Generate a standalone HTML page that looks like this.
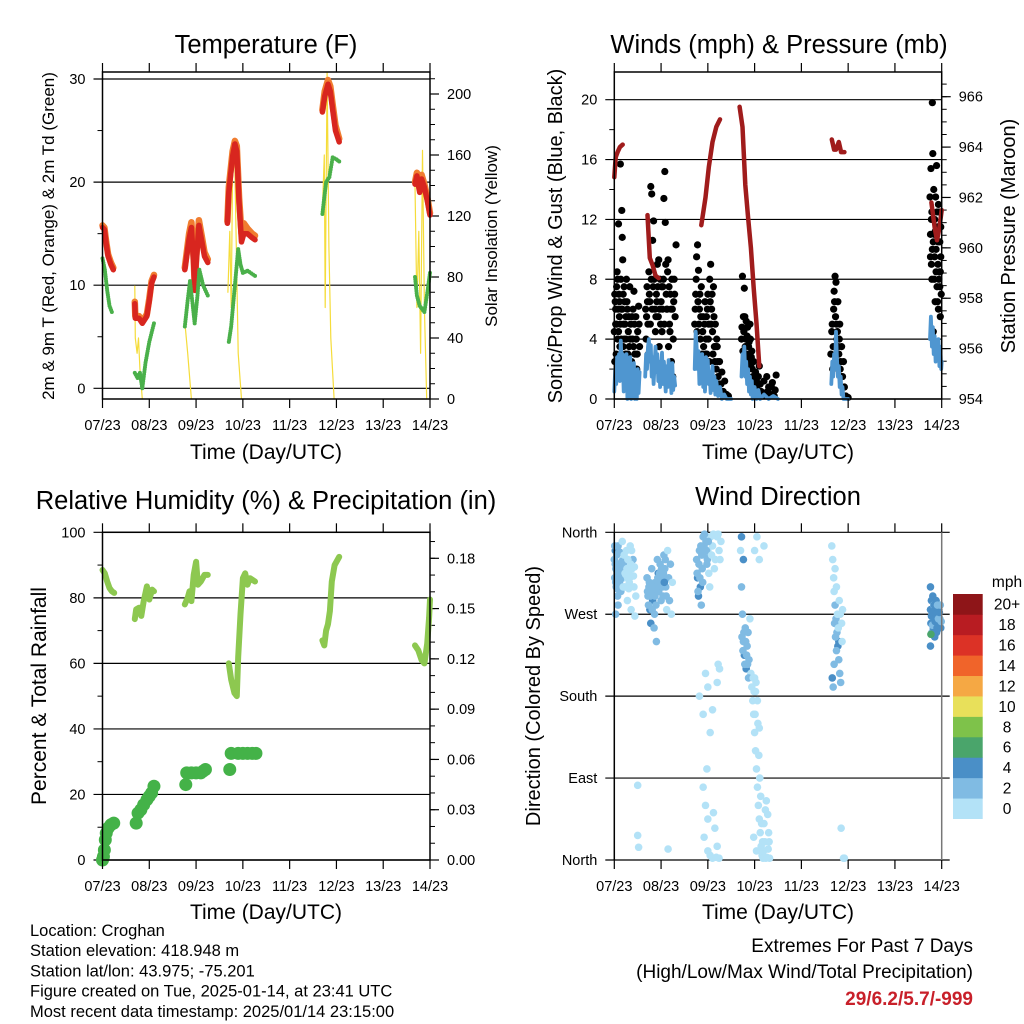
<!DOCTYPE html>
<html><head><meta charset="utf-8">
<style>
html,body{margin:0;padding:0;background:#fff;}
svg{display:block;font-family:"Liberation Sans",Arial,sans-serif;}
</style></head>
<body>
<svg id="chart" width="1024" height="1024" viewBox="0 0 1024 1024" xmlns="http://www.w3.org/2000/svg">
<rect width="1024" height="1024" fill="#fff"/>
</svg>
<script>
// ---------- DATA ----------
const dayLabels = ["07/23","08/23","09/23","10/23","11/23","12/23","13/23","14/23"];
const temp2m = [
 [[0,15.6],[0.04,15.4],[0.08,14],[0.12,12.8],[0.18,12],[0.23,11.5]],
 [[0.69,8.2],[0.7,6.8],[0.78,6.8],[0.85,6.3],[0.95,7],[1.0,8.5],[1.05,10.2],[1.1,10.8]],
 [[1.76,11.5],[1.85,14.5],[1.9,15.6],[1.95,12],[1.97,9.5],[2.0,12],[2.06,15.8],[2.12,14.3],[2.18,12.8],[2.25,12.2]],
 [[2.67,16],[2.7,19],[2.78,22.5],[2.83,23.7],[2.87,23],[2.92,18],[2.97,14.2],[3.02,15],[3.1,15],[3.2,14.6],[3.26,14.4]],
 [[4.7,26.8],[4.75,28.3],[4.82,29.5],[4.87,28.8],[4.92,27],[4.98,25],[5.06,23.9]],
 [[6.68,19.8],[6.72,20.6],[6.78,19],[6.82,20.3],[6.88,19.5],[6.95,18],[7.0,16.8]]
];
const temp9m = [
 [[0,15.8],[0.04,15.6],[0.08,14.2],[0.12,13],[0.18,12.2],[0.23,11.7]],
 [[0.69,8.4],[0.7,7],[0.78,7],[0.85,6.5],[0.95,7.2],[1.0,8.7],[1.05,10.4],[1.1,11]],
 [[1.76,11.7],[1.85,15],[1.9,16.1],[1.95,12.5],[1.97,10],[2.0,12.5],[2.06,16.3],[2.12,14.8],[2.18,13.2],[2.25,12.5]],
 [[2.67,16.2],[2.7,19.5],[2.78,23],[2.83,24],[2.87,23.5],[2.92,18.5],[2.97,15],[3.02,16],[3.1,15.5],[3.2,15],[3.26,14.8]],
 [[4.7,27],[4.75,28.8],[4.82,29.9],[4.87,29.3],[4.92,27.5],[4.98,25.5],[5.06,24.2]],
 [[6.68,20],[6.72,20.9],[6.78,19.3],[6.82,20.7],[6.88,19.8],[6.95,18.3],[7.0,17]]
];
const dewpoint = [
 [[0,12.6],[0.05,11.5],[0.1,9.5],[0.15,8],[0.2,7.4]],
 [[0.69,1.5],[0.75,1],[0.8,1.5],[0.85,0],[0.92,2.5],[1.0,4.5],[1.1,6.3]],
 [[1.76,6],[1.82,8.5],[1.87,10.4],[1.93,8],[1.97,6.3],[2.03,9],[2.07,11.5],[2.15,10],[2.25,9]],
 [[2.7,4.5],[2.75,6],[2.8,8.5],[2.85,11],[2.9,13.5],[2.95,12],[3.0,11.2],[3.1,11.4],[3.26,10.9]],
 [[4.7,16.9],[4.74,18.5],[4.78,20],[4.85,20.5],[4.92,22.4],[5.0,22.2],[5.06,22]],
 [[6.68,10.8],[6.72,9],[6.78,8],[6.88,7.4],[6.95,9.5],[7.0,11.2]]
];
const solar = [
 [[0.69,74],[0.7,40],[0.74,30],[0.77,40],[0.8,20],[0.85,0]],
 [[1.77,47],[1.82,30],[1.9,0]],
 [[2.68,70],[2.72,110],[2.75,60],[2.78,150],[2.82,167],[2.86,100],[2.9,30],[2.97,0]],
 [[4.7,124],[4.74,160],[4.76,60],[4.8,214],[4.84,100],[4.88,40],[4.95,0]],
 [[6.68,140],[6.72,60],[6.76,110],[6.8,30],[6.84,163],[6.88,60],[6.93,0]]
];
const pressure = [
 [[0,962.8],[0.03,963.6],[0.07,963.8],[0.12,964],[0.18,964.1]],
 [[0.71,961.3],[0.76,959.6],[0.82,959.3],[0.88,958.9],[0.95,958.8]],
 [[1.86,960.9],[1.95,962],[2.02,963.2],[2.1,964.2],[2.18,964.8],[2.26,965.1]],
 [[2.68,965.6],[2.74,964.8],[2.8,962.5],[2.86,961.2],[2.92,960],[2.98,958.4],[3.04,957],[3.1,955.3]],
 [[4.65,964.3],[4.7,963.9],[4.74,963.9],[4.8,964.2],[4.85,963.8],[4.92,963.8]],
 [[6.78,961.8],[6.85,960.8],[6.9,960.3],[6.95,960.8],[7.0,961.5]]
];
const gusts = [[0.02,6.5],[0.03,5],[0.04,3],[0.05,7.5],[0.06,8.5],[0.07,4],[0.08,6],[0.09,11.7],[0.1,7],[0.11,5.5],[0.12,3.5],[0.13,15.7],[0.14,8],[0.15,6],[0.16,12.6],[0.17,10.8],[0.18,9.3],[0.19,7],[0.2,5],[0.21,4],[0.22,6.5],[0.24,3],[0.25,5.5],[0.27,2],[0.28,6],[0.3,4.5],[0.32,3.5],[0.33,7.5],[0.35,5],[0.37,2.5],[0.39,4],[0.4,6],[0.42,7.2],[0.44,3],[0.46,5.5],[0.48,2],[0.5,4.5],[0.52,6.2],[0.54,3.5],[0.01,2.5],[0.26,8],[0.36,1.5],[0.45,1],
[0.0,4.5],[0.01,7],[0.03,6],[0.05,5],[0.07,8],[0.09,4.5],[0.11,6.5],[0.13,5],[0.15,4],[0.17,6],[0.19,3.5],[0.21,7.5],[0.23,5],[0.25,4],[0.27,6.5],[0.29,3],[0.31,5.5],[0.34,4],[0.38,5.5],[0.41,3.5],[0.43,5],[0.47,4],[0.49,3],[0.53,5],
[0.67,6],[0.68,4],[0.7,7.5],[0.72,5],[0.74,8.5],[0.76,6.5],[0.78,14.2],[0.8,13.7],[0.82,10.6],[0.84,11.9],[0.85,8],[0.87,6],[0.88,4.5],[0.9,7],[0.92,9],[0.94,5.5],[0.96,3.5],[0.98,8],[1.0,6.5],[1.02,4.5],[1.04,7.5],[1.06,13.4],[1.08,15.2],[1.09,11.8],[1.1,9],[1.12,6],[1.14,8.5],[1.16,3.5],[1.18,5],[1.2,7],[1.22,2.5],[1.24,6],[1.26,4],[1.28,8],[1.3,5.5],[1.32,10.3],[0.73,3],[0.86,2.5],[0.95,9.3],[1.15,9.3],[1.25,1.5],
[0.69,5.5],[0.71,6.5],[0.75,7],[0.77,5],[0.79,8],[0.81,6],[0.83,7.5],[0.89,5.5],[0.91,6.5],[0.93,7.5],[0.97,6],[0.99,5],[1.01,7.5],[1.03,6],[1.05,8],[1.07,5],[1.11,7],[1.13,6],[1.17,7.5],[1.19,4.5],[1.21,6],[1.23,8],[1.27,6.5],[1.29,7],
[1.72,5],[1.74,7],[1.76,9.5],[1.78,10.3],[1.8,8.6],[1.82,6],[1.84,4],[1.86,7.5],[1.88,3],[1.9,5.5],[1.92,2],[1.94,6.5],[1.96,4],[1.98,3],[2.0,7],[2.02,5],[2.04,8],[2.06,9],[2.08,6],[2.1,4.5],[2.12,7.5],[2.14,3.5],[2.16,5],[2.18,2],[2.2,3.5],[2.22,1.5],[2.25,2.5],[2.28,1],[2.3,1.8],[2.33,0.5],[2.36,1.2],[2.4,0.3],[2.44,0.2],[1.87,1.5],[2.03,2.5],
[1.73,6],[1.75,8],[1.77,4.5],[1.79,6.5],[1.81,5],[1.83,7],[1.85,5.5],[1.89,4.5],[1.91,3.5],[1.93,5],[1.95,3],[1.97,5.5],[1.99,6],[2.01,4],[2.05,6.5],[2.07,5],[2.09,7],[2.11,3],[2.13,5.5],[2.15,2.5],[2.17,3.5],[2.19,4],[2.21,2.5],[2.24,1],
[2.72,4],[2.74,8.2],[2.76,5.5],[2.78,7.4],[2.8,3.5],[2.82,5.2],[2.84,4.2],[2.86,2.5],[2.88,3.8],[2.9,5],[2.92,2.2],[2.94,3.2],[2.96,1.5],[2.98,2.5],[3.0,1],[3.02,1.8],[3.05,0.8],[3.08,1.5],[3.1,2.2],[3.14,0.5],[3.18,0.2],[3.22,0.4],[3.26,1.5],[3.3,0.8],[3.34,0.3],[3.38,1.1],[3.42,0.2],[3.46,1.6],
[2.73,4.8],[2.75,3.2],[2.77,4.5],[2.79,5.5],[2.81,4],[2.83,3],[2.85,4.8],[2.87,3.5],[2.89,2.8],[2.91,4],[2.93,2.8],[2.95,2],[3.04,1.2],[3.12,1],[3.2,1.2],[3.28,0.5],[3.36,0.8],[3.44,0.6],
[4.63,3],[4.65,4.5],[4.67,2],[4.69,6],[4.7,7.2],[4.72,8.2],[4.73,5.5],[4.74,7.8],[4.76,4],[4.78,6.5],[4.8,3],[4.82,5],[4.84,2.5],[4.86,3.5],[4.88,1.5],[4.9,2.5],[4.92,0.8],[4.95,0.2],[5.0,0.1],
[4.66,5],[4.68,3.5],[4.71,6.5],[4.75,5],[4.77,4.5],[4.79,3.5],[4.81,4],[4.83,2],[4.85,1.5],
[6.75,13.5],[6.76,11],[6.77,15.4],[6.78,9],[6.79,12.5],[6.8,19.8],[6.81,16.4],[6.82,10.5],[6.83,14],[6.84,8],[6.85,12],[6.86,6.5],[6.87,13.5],[6.88,10],[6.89,15.6],[6.9,7.5],[6.91,11.5],[6.92,9],[6.93,6],[6.94,12.5],[6.95,8.5],[6.96,10.5],[6.97,5.5],[6.98,9.5],[6.99,7],[6.82,4.5],[6.86,11.2],[6.93,13],
[6.76,9.5],[6.78,12],[6.8,10],[6.84,11],[6.88,8.5],[6.9,12.5],[6.92,10.5],[6.94,8],[6.96,7.5],[6.98,11.5],[6.79,8],[6.85,9.5],[6.91,6.5],[6.97,8.5]];
const sonic = [
 [[0,0.5],[0.02,2],[0.04,1],[0.06,2.8],[0.08,1.5],[0.1,3],[0.12,1.2],[0.14,3.9],[0.16,2],[0.18,3],[0.2,0.5],[0.22,2.5],[0.24,1],[0.26,3],[0.28,0],[0.3,2.2],[0.32,0.5],[0.34,2.8],[0.36,0],[0.38,1.8],[0.4,0.3],[0.42,2.4],[0.44,0],[0.46,1.5],[0.48,0],[0.5,2],[0.52,0.4],[0.54,1.8]],
 [[0.66,1.5],[0.68,3],[0.7,2],[0.72,3.5],[0.74,4],[0.76,2.5],[0.78,3.6],[0.8,1.5],[0.82,2.8],[0.84,1],[0.86,2.2],[0.88,3.5],[0.9,1.8],[0.92,3],[0.94,1.2],[0.96,2.5],[0.98,0.8],[1.0,2],[1.02,3.1],[1.04,1],[1.06,2.5],[1.08,1.5],[1.1,0.5],[1.12,2.2],[1.14,0.8],[1.16,2.6],[1.18,1],[1.2,1.8],[1.22,0.4],[1.24,2.4],[1.26,0.6],[1.28,1.5],[1.3,0.9]],
 [[1.72,2],[1.74,4.5],[1.76,3.5],[1.78,2],[1.8,3.2],[1.82,1],[1.84,2.5],[1.86,1.2],[1.88,3],[1.9,0.8],[1.92,2],[1.94,0.5],[1.96,2.8],[1.98,1.2],[2.0,2.6],[2.02,1],[2.04,1.8],[2.06,0.4],[2.08,1.5],[2.1,2.2],[2.12,0.6],[2.14,1.5],[2.16,0.3],[2.18,1.2],[2.22,0.2],[2.26,0.8],[2.3,0],[2.35,0.3],[2.4,0],[2.5,0]],
 [[2.72,1.5],[2.74,3],[2.76,2.2],[2.78,3.5],[2.8,1.5],[2.82,2.5],[2.84,1],[2.86,2],[2.88,0.5],[2.9,1.5],[2.92,0.3],[2.94,1.2],[2.96,0],[3.0,0.8],[3.04,0],[3.08,0.6],[3.12,0],[3.2,0.3],[3.3,0],[3.4,0.2],[3.5,0]],
 [[4.64,1],[4.66,2.5],[4.68,1.5],[4.7,3],[4.72,2],[4.74,4.5],[4.76,2.8],[4.78,1.5],[4.8,2.2],[4.82,0.8],[4.84,1.5],[4.86,0.3],[4.88,0.8],[4.9,0],[5.0,0]],
 [[6.75,4],[6.77,5.5],[6.79,3.5],[6.81,4.8],[6.83,3],[6.85,4.2],[6.87,2.5],[6.89,3.8],[6.91,2.8],[6.93,4],[6.95,2.2],[6.97,3.5],[6.99,2],[7.0,2.5]]
];
const humidity = [
 [[0,88.5],[0.05,87.5],[0.1,85],[0.15,83],[0.2,82],[0.25,81.5]],
 [[0.69,73.5],[0.72,76.5],[0.78,77],[0.83,74.5],[0.88,79],[0.95,83.5],[1.0,79.5],[1.06,82.5],[1.1,82]],
 [[1.76,78],[1.82,80],[1.86,82],[1.9,79],[1.95,87],[2.0,91],[2.04,84],[2.1,85],[2.18,87],[2.25,87]],
 [[2.7,60],[2.75,55],[2.82,51],[2.87,50],[2.9,62],[2.95,75],[3.0,86],[3.05,87.5],[3.1,84],[3.15,86],[3.26,85]],
 [[4.7,67],[4.74,65.5],[4.78,70],[4.82,72],[4.86,76],[4.9,85],[4.96,90],[5.06,92.5]],
 [[6.68,65.5],[6.75,64],[6.82,61],[6.88,60],[6.94,66],[6.98,74],[7.0,79.5]]
];
const precip = [[0,0],[0.02,0.002],[0.04,0.006],[0.06,0.012],[0.08,0.016],[0.12,0.019],[0.18,0.021],[0.24,0.022],
 [0.72,0.022],[0.76,0.028],[0.82,0.030],[0.88,0.033],[0.95,0.036],[1.0,0.038],[1.05,0.040],[1.1,0.044],
 [1.78,0.045],[1.8,0.052],[1.9,0.052],[2.0,0.052],[2.1,0.052],[2.15,0.053],[2.2,0.054],
 [2.72,0.054],[2.75,0.0636],[2.9,0.0636],[3.0,0.0636],[3.1,0.0636],[3.2,0.0636],[3.28,0.0636]];
const windDir = [[0.0,330,3],[0.01,310,3],[0.02,340,4],[0.03,320,3],[0.04,300,3],[0.05,335,3],[0.06,315,5],[0.07,290,3],[0.08,345,3],[0.1,325,3],[0.11,305,2],[0.12,338,3],[0.14,295,3],[0.15,318,2],[0.17,350,1],[0.18,330,1],[0.2,310,1],[0.22,300,1],[0.24,325,3],[0.26,340,1],[0.28,285,1],[0.3,315,1],[0.32,305,1],[0.34,345,1],[0.36,275,1],[0.38,320,1],[0.4,330,3],[0.42,300,1],[0.44,268,1],[0.46,290,1],[0.5,82,1],[0.5,27,1],[0.52,14,1],[0.03,270,3],[0.08,280,3],
[0.01,345,3],[0.02,325,3],[0.03,305,3],[0.05,318,3],[0.06,298,3],[0.09,312,3],[0.1,338,2],[0.12,322,3],[0.13,308,3],[0.16,328,3],[0.19,300,1],[0.21,335,1],[0.23,315,1],[0.25,300,1],[0.27,320,1],[0.29,330,1],[0.31,298,1],[0.33,310,1],[0.35,325,1],[0.37,340,1],[0.41,312,1],[0.43,322,1],
[0.7,310,3],[0.72,290,3],[0.74,300,3],[0.76,275,4],[0.78,260,4],[0.8,320,3],[0.82,285,4],[0.84,295,3],[0.86,270,3],[0.88,305,3],[0.9,240,3],[0.92,330,3],[0.94,315,4],[0.96,300,3],[0.98,325,3],[1.0,285,3],[1.02,310,3],[1.04,290,3],[1.06,335,3],[1.08,320,3],[1.1,300,3],[1.12,275,1],[1.14,340,1],[1.16,310,3],[1.18,285,3],[1.2,325,3],[1.22,270,1],[1.24,305,1],[0.85,255,3],[0.83,300,3],[1.15,12,1],
[0.71,295,3],[0.73,280,3],[0.75,305,3],[0.77,290,3],[0.79,295,3],[0.81,275,3],[0.87,290,3],[0.89,280,3],[0.91,300,3],[0.93,310,3],[0.95,295,3],[0.97,315,3],[0.99,305,3],[1.01,320,3],[1.03,300,3],[1.05,315,3],[1.07,305,4],[1.09,330,3],[1.11,290,3],
[1.76,330,3],[1.78,310,4],[1.8,290,4],[1.82,340,3],[1.84,300,4],[1.86,280,3],[1.88,320,3],[1.9,355,3],[1.92,345,3],[1.94,335,3],[1.96,350,3],[1.98,325,3],[2.0,340,1],[2.02,315,1],[2.04,300,1],[2.06,355,1],[2.1,345,1],[2.14,320,1],[2.18,357,1],[2.2,355,1],[2.24,340,1],[2.28,350,1],[1.82,180,1],[1.9,160,1],[1.95,205,1],[2.0,190,1],[2.05,140,1],[2.1,165,1],[1.9,80,1],[1.95,60,1],[2.0,45,1],[1.92,25,1],[2.0,10,1],[2.05,5,1],[2.1,2,1],[2.15,35,1],[2.2,15,1],[1.98,100,1],[2.2,195,1],[2.22,215,1],[2.25,210,1],[2.18,3,1],[2.24,2,1],[2.12,52,1],
[1.77,315,3],[1.79,295,3],[1.81,325,3],[1.83,310,3],[1.85,345,3],[1.87,335,3],[1.89,305,3],[1.91,340,3],[1.93,358,3],[1.97,340,3],[1.99,330,3],[2.01,350,3],[2.08,335,1],[2.12,358,1],[2.16,330,1],[2.22,358,1],[2.26,330,1],
[2.7,340,1],[2.72,300,3],[2.74,270,3],[2.76,240,3],[2.78,225,4],[2.8,255,3],[2.82,210,4],[2.84,235,3],[2.86,250,3],[2.88,220,3],[2.9,265,1],[2.92,205,1],[2.94,190,1],[2.96,175,1],[2.98,160,1],[3.0,140,1],[3.02,120,1],[3.04,100,1],[3.06,80,1],[3.08,60,1],[3.1,45,1],[3.12,30,1],[3.14,15,1],[3.16,5,1],[3.18,2,1],[3.2,40,1],[3.22,20,1],[3.25,65,1],[3.28,50,1],[3.3,30,1],[3.32,2,1],[3.05,355,1],[3.0,340,1],[3.1,330,1],[3.2,345,1],[2.72,355,4],[2.76,330,4],[3.02,185,1],[3.06,175,1],[3.1,145,1],[3.0,200,1],[2.98,25,1],[3.04,10,1],[3.24,2,1],
[2.73,245,3],[2.75,230,3],[2.77,250,3],[2.79,215,3],[2.81,240,3],[2.83,225,3],[2.85,215,3],[2.87,200,3],[2.97,200,1],[2.99,185,1],[3.01,160,1],[3.03,195,1],[3.07,150,1],[3.09,115,1],[3.11,90,1],[3.13,70,1],[3.15,40,1],[3.17,20,1],[3.19,10,1],[3.21,3,1],[3.23,55,1],[3.26,3,1],[3.29,12,1],[3.31,20,1],
[4.65,345,1],[4.67,330,1],[4.69,310,1],[4.7,295,1],[4.72,280,3],[4.74,265,3],[4.76,250,3],[4.78,235,4],[4.8,220,3],[4.82,205,3],[4.84,195,3],[4.72,320,1],[4.75,300,1],[4.7,215,3],[4.66,200,4],[4.68,190,3],[4.86,260,1],[4.88,275,1],[4.8,240,4],[4.85,35,1],[4.9,2,1],[4.92,2,1],
[4.71,260,3],[4.73,245,3],[4.75,230,3],[4.77,270,1],[4.79,255,1],[4.81,285,1],[4.83,270,1],[4.87,240,1],
[6.76,275,4],[6.77,260,4],[6.78,285,4],[6.79,250,3],[6.8,270,4],[6.81,290,4],[6.82,255,4],[6.83,280,3],[6.84,265,4],[6.85,245,4],[6.86,275,4],[6.87,260,3],[6.88,285,4],[6.89,250,4],[6.9,270,3],[6.92,258,4],[6.94,275,4],[6.96,265,3],[6.98,255,4],[6.76,300,5],[6.77,248,6],[6.76,235,4],
[6.78,268,4],[6.8,258,3],[6.82,272,4],[6.84,280,4],[6.86,262,4],[6.88,270,4],[6.9,255,4],[6.91,280,3],[6.93,265,3],[6.95,272,4],[6.97,280,3],[6.99,262,3]];
const speedLabels = ["0","2","4","6","8","10","12","14","16","18","20+"];
const speedColors = ["#b3e2f7","#80bbe3","#4a8fc7","#4aa56b","#7ec24a","#e8e05a","#f5a844","#f0642a","#dc3226","#b81c22","#8e1518"];
const tempTicks = [0,10,20,30];
const solarTicks = [0,40,80,120,160,200];
const windTicks = [0,4,8,12,16,20];
const pressTicks = [954,956,958,960,962,964,966];
const rhTicks = [0,20,40,60,80,100];
const rainTicks = ["0.00","0.03","0.06","0.09","0.12","0.15","0.18"];
const dirLabels = ["North","East","South","West","North"];

// ---------- HELPERS ----------
const NS="http://www.w3.org/2000/svg";
const svg=document.getElementById('chart');
const TICKFS=14.5;
function el(tag,attrs,parent){const e=document.createElementNS(NS,tag);for(const k in attrs)e.setAttribute(k,attrs[k]);(parent||svg).appendChild(e);return e;}
function txt(s,x,y,size,anchor,parent,extra){const t=el('text',Object.assign({x:x,y:y,'font-size':size,'text-anchor':anchor||'middle',fill:'#000'},extra||{}),parent);t.textContent=s;return t;}
function lin(d0,d1,r0,r1){return v=>r0+(v-d0)/(d1-d0)*(r1-r0);}
function panel(name,L,R,T,B){
 const g=el('g',{});
 
 
 const xs=lin(0,7,L,R);
 return {g,xs,L,R,T,B};
}
function xAxis(p,name){
 const g=el('g',{},p.g);
 
 
 dayLabels.forEach((s,i)=>{const x=p.xs(i);
  el('line',{x1:x,x2:x,y1:p.T-9,y2:p.T,stroke:'#000','stroke-width':1.2},g);
  el('line',{x1:x,x2:x,y1:p.B,y2:p.B+9,stroke:'#000','stroke-width':1.2},g);
  const t=txt(s,x,p.B+31,TICKFS,'middle',g);
  
  
 });
}
function frame(p){
 el('rect',{x:p.L,y:p.T,width:p.R-p.L,height:p.B-p.T,fill:'none',stroke:'#000','stroke-width':1.5},p.g);
}
function gridLeft(p,vals,ys,labels,minor,name){
 const g=el('g',{},p.g);
 
 
 vals.forEach((v,i)=>{const y=ys(v);
  el('line',{x1:p.L-9,x2:p.R,y1:y,y2:y,stroke:'#000','stroke-width':1.2},g);
  const t=txt(labels[i],p.L-17,y+5,TICKFS,'end',g);
  
  
 });
 (minor||[]).forEach(v=>{const y=ys(v);el('line',{x1:p.L-5,x2:p.L,y1:y,y2:y,stroke:'#000','stroke-width':1},g);});
}
function ticksRight(p,vals,ys,labels,minor,name){
 const g=el('g',{},p.g);
 
 
 vals.forEach((v,i)=>{const y=ys(v);
  el('line',{x1:p.R,x2:p.R+9,y1:y,y2:y,stroke:'#000','stroke-width':1.2},g);
  const t=txt(labels[i],p.R+17,y+5,TICKFS,'start',g);
  
  
 });
 (minor||[]).forEach(v=>{const y=ys(v);el('line',{x1:p.R,x2:p.R+5,y1:y,y2:y,stroke:'#000','stroke-width':1},g);});
}
function range(a,b,s){const r=[];for(let v=a;v<=b+1e-9;v+=s)r.push(+v.toFixed(4));return r;}
function polyline(p,seg,ys,color,w,name){
 const pts=seg.map(d=>p.xs(d[0]).toFixed(1)+','+ys(d[1]).toFixed(1)).join(' ');
 const e=el('polyline',{points:pts,fill:'none',stroke:color,'stroke-width':w,'stroke-linejoin':'round','stroke-linecap':'round'},p.g);
 
 
 return e;
}
function dotSeries(p,seg,ys,color,r,name,step){
 const g=el('g',{fill:color},p.g);
 
 
 for(let i=0;i<seg.length-1;i++){
  const a=seg[i],b=seg[i+1];
  const x0=p.xs(a[0]),y0=ys(a[1]),x1=p.xs(b[0]),y1=ys(b[1]);
  const n=Math.max(1,Math.ceil(Math.hypot(x1-x0,y1-y0)/step));
  for(let k=0;k<n;k++){const t=k/n;el('circle',{cx:x0+(x1-x0)*t,cy:y0+(y1-y0)*t,r:r},g);}
 }
 const l=seg[seg.length-1];el('circle',{cx:p.xs(l[0]),cy:ys(l[1]),r:r},g);
}
function title(s,x,y,size,name,rot){
 const t=txt(s,x,y,size,'middle',svg,rot?{transform:'rotate(-90 '+x+' '+y+')'}:{});
 
 
 return t;
}

// ---------- PANEL 1 ----------
{
 const p=panel('temperature-panel',102.5,430,72,399);
 const yT=lin(0,30,388.3,79);
 const yS=lin(0,200,399,94);
 gridLeft(p,tempTicks,yT,tempTicks.map(String),[5,15,25],'temperature-y-axis');
 ticksRight(p,solarTicks,yS,solarTicks.map(String),range(0,210,10),'solar-y-axis');
 solar.forEach(s=>polyline(p,s,yS,'#f5dc3a',1.2,'solar-insolation-line'));
 temp9m.forEach(s=>polyline(p,s,yT,'#f07d30',6.5,'temp-9m-line'));
 temp2m.forEach(s=>polyline(p,s,yT,'#d8261f',5.5,'temp-2m-line'));
 dewpoint.forEach(s=>dotSeries(p,s,yT,'#4ab04a',2,'dewpoint-series',2.5));
 xAxis(p,'temperature-x-axis');
 frame(p);
 title('Temperature (F)',266,53,25.5,'temperature-title');
 title('Time (Day/UTC)',266,459,21,'temperature-x-title');
 title('2m & 9m T (Red, Orange) & 2m Td (Green)',54,236,17,'temperature-y-title',true);
 title('Solar Insolation (Yellow)',497,236,17,'solar-y-title',true);
}
// ---------- PANEL 2 ----------
{
 const p=panel('winds-panel',614.3,941.7,72,399);
 const yW=lin(0,20,399,99.7);
 const yP=lin(954,966,399,96.7);
 gridLeft(p,windTicks,yW,windTicks.map(String),range(2,20,4),'wind-y-axis');
 ticksRight(p,pressTicks,yP,pressTicks.map(String),range(954,966.5,0.5),'pressure-y-axis');
 const g=el('g',{fill:'#000'},p.g);
 
 
 gusts.forEach(d=>{const c=el('circle',{cx:p.xs(d[0]),cy:yW(d[1]),r:3.6},g);
  
  });
 sonic.forEach(s=>polyline(p,s,yW,'#4f96d0',3.8,'sonic-wind-line'));
 pressure.forEach(s=>polyline(p,s,yP,'#a01c1c',4.5,'pressure-line'));
 xAxis(p,'winds-x-axis');
 frame(p);
 title('Winds (mph) & Pressure (mb)',779,53,25.5,'winds-title');
 title('Time (Day/UTC)',778,459,21,'winds-x-title');
 title('Sonic/Prop Wind & Gust (Blue, Black)',562,236,20,'wind-y-title',true);
 title('Station Pressure (Maroon)',1015,236,20,'pressure-y-title',true);
}
// ---------- PANEL 3 ----------
{
 const p=panel('humidity-panel',102.5,430,532.3,860);
 const yH=lin(0,100,860,532.3);
 const yR=lin(0,0.18,860,558.3);
 gridLeft(p,rhTicks,yH,rhTicks.map(String),range(10,90,20),'humidity-y-axis');
 ticksRight(p,rainTicks.map(Number),yR,rainTicks,range(0,0.19,0.01),'rain-y-axis');
 humidity.forEach(s=>polyline(p,s,yH,'#8dc850',6,'humidity-line'));
 const g=el('g',{fill:'#44b248'},p.g);
 
 
 precip.forEach(d=>{const c=el('circle',{cx:p.xs(d[0]),cy:yR(d[1]),r:6.5},g);
  
  });
 xAxis(p,'humidity-x-axis');
 frame(p);
 title('Relative Humidity (%) & Precipitation (in)',266,509,25.5,'humidity-title');
 title('Time (Day/UTC)',266,919,21,'humidity-x-title');
 title('Percent & Total Rainfall',46,696,21,'humidity-y-title',true);
}
// ---------- PANEL 4 ----------
{
 const p=panel('wind-direction-panel',614.3,941.7,532.3,860);
 const yD=lin(0,360,860,532.3);
 const g0=el('g',{},p.g);
 
 
 dirLabels.forEach((s,i)=>{const y=yD(i*90);
  el('line',{x1:p.L-9,x2:p.R+8,y1:y,y2:y,stroke:'#000','stroke-width':1.2},g0);
  const t=txt(s,p.L-17,y+5,TICKFS,'end',g0);
  
  });
 const g=el('g',{},p.g);
 
 
 windDir.forEach(d=>{const bin=Math.min(10,Math.floor(d[2]/2));
  const c=el('circle',{cx:p.xs(d[0]),cy:yD(d[1]),r:3.8,fill:speedColors[bin]},g);
  
  });
 xAxis(p,'direction-x-axis');
 el('line',{x1:p.L,x2:p.L,y1:p.T,y2:p.B,stroke:'#000','stroke-width':1.5},p.g);
 el('line',{x1:p.R,x2:p.R,y1:p.T,y2:p.B,stroke:'#777','stroke-width':1.5},p.g);
 title('Wind Direction',778,505,25.5,'wind-direction-title');
 title('Time (Day/UTC)',778,919,21,'direction-x-title');
 title('Direction (Colored By Speed)',540,696,20,'direction-y-title',true);
 const cb=el('g',{});
 
 
 const top=594,bot=818.7,h=(bot-top)/speedColors.length;
 speedColors.forEach((c,i)=>{const y=bot-(i+1)*h;
  const r=el('rect',{x:953,y:y,width:29.7,height:h+0.3,fill:c},cb);
  
  
  const t=txt(speedLabels[i],1007,y+h/2+5.5,15.5,'middle',cb);
  
  });
 const u=txt('mph',1007,587,15.5,'middle',cb);
 
 
}
// ---------- FOOTER ----------
{
 const lines=["Location: Croghan","Station elevation: 418.948 m","Station lat/lon: 43.975; -75.201","Figure created on Tue, 2025-01-14, at 23:41 UTC","Most recent data timestamp: 2025/01/14 23:15:00"];
 const g=el('g',{});
 
 
 lines.forEach((s,i)=>{const t=txt(s,30,936+i*20.2,16.5,'start',g);
  
  });
 const e=el('g',{});
 
 
 const a=txt('Extremes For Past 7 Days',973,952,19,'end',e);
 
 
 const b=txt('(High/Low/Max Wind/Total Precipitation)',973,978,19,'end',e);
 
 
 const c=txt('29/6.2/5.7/-999',973,1005,19,'end',e,{fill:'#c8202a','font-weight':'bold'});
 
 
}
</script>
</body></html>
